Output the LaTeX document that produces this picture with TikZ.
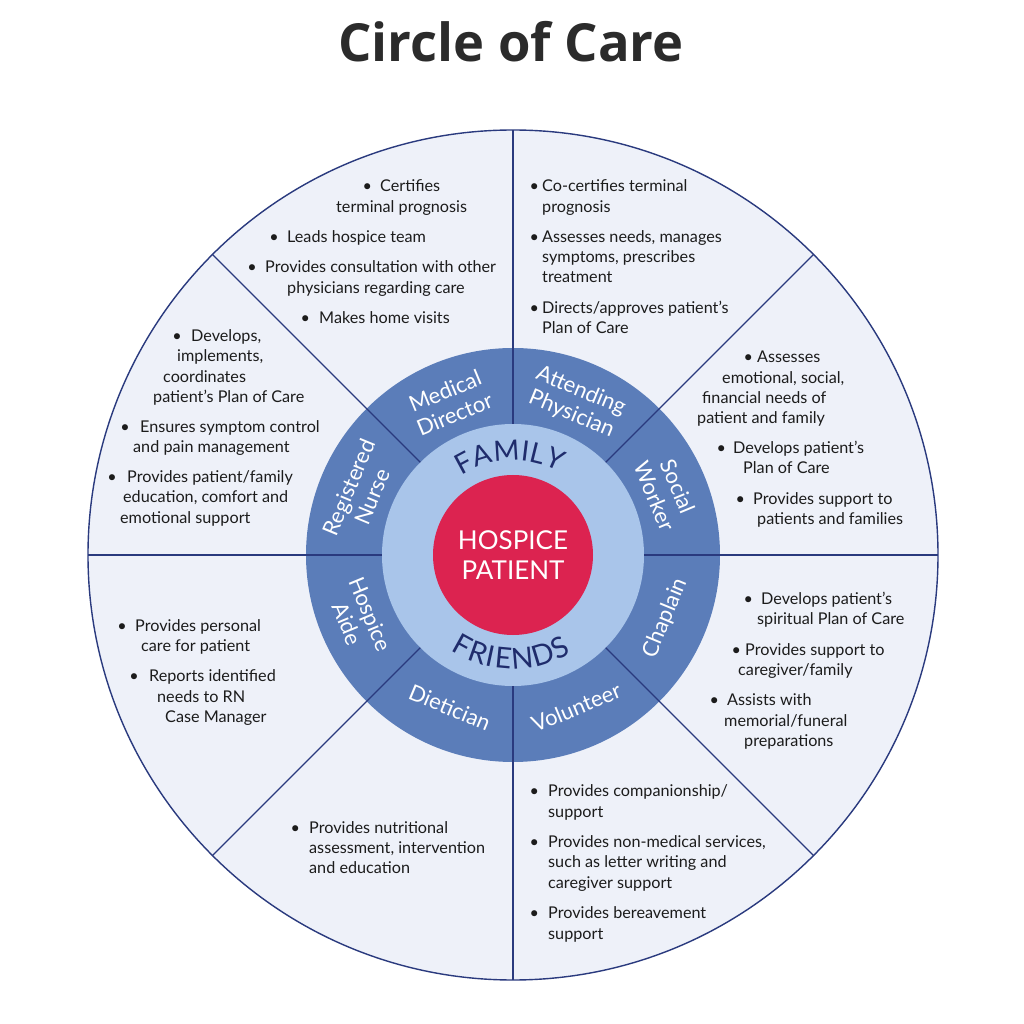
\documentclass[tikz,border=0pt]{standalone}
\usepackage{fontspec}
\setmainfont{Lato}
\newfontfamily\titlefont{Open Sans}
\usetikzlibrary{decorations.text}

\definecolor{discbg}{HTML}{EEF1F9}
\definecolor{ringblue}{HTML}{5B7DB9}
\definecolor{innerblue}{HTML}{A9C5EA}
\definecolor{patientred}{HTML}{DC2350}
\definecolor{navyline}{HTML}{2A3A7E}
\definecolor{navytext}{HTML}{1F2C6C}
\definecolor{titlegray}{HTML}{2B2B2B}
\definecolor{bodytext}{HTML}{1C1C1C}

% one text line (name, x, y in pixels of the page)
\newcommand{\tline}[4]{\node[caretext] (#1) at ({#2-513},{550-#3}) {#4};}
% one text line that starts with a bullet (name, bullet x, text x, y, text)
\newcommand{\bline}[5]{\node[caretext] (#1) at ({#2-513},{550-#4}) {\makebox[0pt]{\textbullet}\hspace*{\dimexpr#3pt-#2pt\relax}#5};}

\begin{document}
\begin{tikzpicture}[
        x=1pt, y=1pt,
        caretext/.style={anchor=base west, inner sep=0pt, text=bodytext, font=\fontsize{16.2}{20}\selectfont},
        role/.style={text=white, align=center, inner sep=0pt, font=\fontsize{22}{25}\selectfont},
        patient/.style={text=white, align=center, inner sep=0pt, font=\fontsize{26}{30}\selectfont},
        heading/.style={anchor=base, text=titlegray, inner sep=0pt, font=\titlefont\bfseries\fontsize{52.5}{60}\selectfont},
        divider/.style={draw=navyline, line width=1.1pt}
    ]
        \useasboundingbox[fill=white] (-513,-469) rectangle (511,555);

        % Title
        \node[heading] (title) at (-2,493) {Circle of Care};

        % Discs
        \filldraw[fill=discbg, draw=navyline, line width=1.4pt] (0,0) circle (425);
        \fill[ringblue] (0,0) circle (207);
        \fill[innerblue] (0,0) circle (131);
        \foreach \ang in {0,45,...,315}
            \draw[divider] (\ang:131) -- (\ang:425);
        \fill[patientred] (0,0) circle (80);

        % Centre
        \node[patient] (patient) at (0,0) {HOSPICE\\PATIENT};
        \path[decorate, decoration={text along path, text color=navytext, text align=fit to path,
            text={|\fontsize{28}{28}\selectfont|FAMILY}}] (123:95) arc[start angle=123, end angle=61, radius=95];
        \path[decorate, decoration={text along path, text color=navytext, text align=fit to path,
            text={|\fontsize{29}{29}\selectfont|FRIENDS}}] (237:114) arc[start angle=237, end angle=301, radius=114];

        % Ring labels
        \node[role, rotate=22.5] (md) at (112.5:165) {Medical\\Director};
        \node[role, rotate=-22.5] (ap) at (67.5:165) {Attending\\Physician};
        \node[role, rotate=-67.5] (sw) at (22.5:166) {Social\\Worker};
        \node[role, rotate=67.5] (ch) at (-22.5:165) {Chaplain};
        \node[role, rotate=22.5] (vo) at (-67.5:165) {Volunteer};
        \node[role, rotate=-22.5] (di) at (-112.5:165) {Dietician};
        \node[role, rotate=-67.5] (ha) at (202.5:167) {Hospice\\Aide};
        \node[role, rotate=67.5] (rn) at (157.5:165) {Registered\\Nurse};

        % Medical Director
        \bline{md1}{367}{380}{187}{Certifies}
        \tline{md2}{336}{208}{terminal prognosis}
        \bline{md3}{274}{287}{238}{Leads hospice team}
        \bline{md4}{252}{265}{268}{Provides consultation with other}
        \tline{md5}{287}{289}{physicians regarding care}
        \bline{md6}{305}{319}{319}{Makes home visits}

        % Attending Physician
        \bline{ap1}{534}{542}{187}{Co-certifies terminal}
        \tline{ap2}{542}{208}{prognosis}
        \bline{ap3}{534}{542}{238}{Assesses needs, manages}
        \tline{ap4}{542}{258}{symptoms, prescribes}
        \tline{ap5}{542}{278}{treatment}
        \bline{ap6}{534}{542}{309}{Directs/approves patient’s}
        \tline{ap7}{542}{329}{Plan of Care}

        % Social Worker
        \bline{sw1}{748}{757}{358}{Assesses}
        \tline{sw2}{722}{379}{emotional, social,}
        \tline{sw3}{702}{399}{financial needs of}
        \tline{sw4}{697}{419}{patient and family}
        \bline{sw5}{721}{733}{449}{Develops patient’s}
        \tline{sw6}{743}{469}{Plan of Care}
        \bline{sw7}{740}{753}{500}{Provides support to}
        \tline{sw8}{757}{520}{patients and families}

        % Chaplain
        \bline{ch1}{748}{761}{600}{Develops patient’s}
        \tline{ch2}{757}{620}{spiritual Plan of Care}
        \bline{ch3}{736}{745}{650}{Provides support to}
        \tline{ch4}{738}{670}{caregiver/family}
        \bline{ch5}{714}{727}{700}{Assists with}
        \tline{ch6}{724}{721}{memorial/funeral}
        \tline{ch7}{744}{741}{preparations}

        % Volunteer
        \bline{vo1}{534}{548}{791}{Provides companionship/}
        \tline{vo2}{548}{812}{support}
        \bline{vo3}{534}{548}{842}{Provides non-medical services,}
        \tline{vo4}{548}{862}{such as letter writing and}
        \tline{vo5}{548}{883}{caregiver support}
        \bline{vo6}{534}{548}{913}{Provides bereavement}
        \tline{vo7}{548}{934}{support}

        % Dietician
        \bline{di1}{295}{309}{828}{Provides nutritional}
        \tline{di2}{309}{848}{assessment, intervention}
        \tline{di3}{309}{868}{and education}

        % Hospice Aide
        \bline{ha1}{122}{135}{626}{Provides personal}
        \tline{ha2}{141}{646}{care for patient}
        \bline{ha3}{134}{149}{676}{Reports identified}
        \tline{ha4}{157}{697}{needs to RN}
        \tline{ha5}{165}{717}{Case Manager}

        % Registered Nurse
        \bline{rn1}{177}{191}{337}{Develops,}
        \tline{rn2}{177}{357}{implements,}
        \tline{rn3}{163}{378}{coordinates}
        \tline{rn4}{153}{398}{patient’s Plan of Care}
        \bline{rn5}{125}{140}{428}{Ensures symptom control}
        \tline{rn6}{133}{448}{and pain management}
        \bline{rn7}{112}{127}{478}{Provides patient/family}
        \tline{rn8}{123}{498}{education, comfort and}
        \tline{rn9}{120}{519}{emotional support}
    \end{tikzpicture}
\end{document}
